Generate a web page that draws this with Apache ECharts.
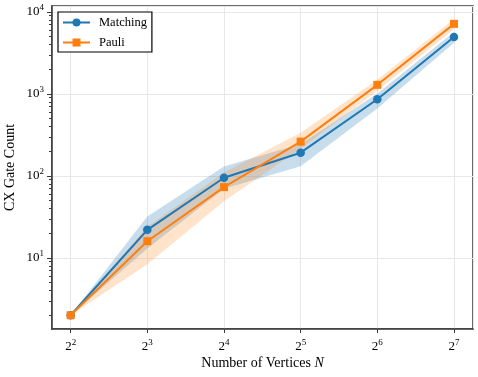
<!DOCTYPE html>
<html>
<head>
<meta charset="utf-8">
<script src="https://cdn.jsdelivr.net/npm/echarts@6/dist/echarts.min.js"></script>
<style>
  html, body { margin: 0; padding: 0; background: #fff; }
  #chart { width: 478px; height: 377px; }
</style>
</head>
<body>
<div id="chart"></div>
<script>
// number of vertices
let vertices = [4, 8, 16, 32, 64, 128];

// CX gate counts (mean) and shaded spread
let matching = [2, 22, 95, 192, 860, 4950];
let matchingLow = [2, 13, 70, 131, 665, 4200];
let matchingHigh = [2, 32, 130, 245, 1015, 5700];

let pauli = [2, 16, 73, 262, 1290, 7150];
let pauliLow = [2, 8.4, 49, 215, 1090, 6200];
let pauliHigh = [2, 24, 110, 335, 1490, 8200];

// log-axis minor ticks (2..9 of each decade)
let minorTicks = [2, 3, 4, 5, 6, 7, 8, 9,
    20, 30, 40, 50, 60, 70, 80, 90,
    200, 300, 400, 500, 600, 700, 800, 900,
    2000, 3000, 4000, 5000, 6000, 7000, 8000, 9000];

let BLUE = '#1f77b4';
let ORANGE = '#ff7f0e';
let AXIS = '#3a3a3a';
let FONT = '"Liberation Serif", "DejaVu Serif", serif';
let YMIN = 1.36, YMAX = 11800;

window.onload = function() {
    drawChart();
}

function pairs(xs, ys) {
    return xs.map((x, i) => [x, ys[i]]);
}

// shaded region between low and high, drawn as one polygon
function band(name, low, high, color) {
    return {
        name: name,
        type: 'custom',
        silent: true,
        z: 1,
        clip: true,
        data: pairs(vertices, high),
        renderItem: function(params, api) {
            if (params.dataIndex !== 0) return null;
            let pts = [];
            for (let i = 0; i < vertices.length; i++) {
                pts.push(api.coord([vertices[i], high[i]]));
            }
            for (let i = vertices.length - 1; i >= 0; i--) {
                pts.push(api.coord([vertices[i], low[i]]));
            }
            return {
                type: 'polygon',
                shape: { points: pts },
                style: { fill: color, stroke: null }
            };
        }
    };
}

function drawChart() {
    var dom = document.getElementById('chart');
    var myChart = echarts.init(dom);

    let supRich = {
        b: { fontFamily: FONT, fontSize: 13, color: '#000' },
        s: { fontFamily: FONT, fontSize: 9, color: '#000', verticalAlign: 'bottom', padding: [0, 0, 8, 0] }
    };

    let option = {
        animation: false,
        textStyle: { fontFamily: FONT },
        grid: {
            left: 52,
            right: 5,
            top: 6,
            bottom: 48,
            outerBoundsMode: 'none',
            containLabel: false,
            show: true,
            borderColor: AXIS,
            borderWidth: 1.5,
            backgroundColor: 'transparent'
        },
        legend: {
            data: ['Matching', 'Pauli'],
            orient: 'vertical',
            left: 58,
            top: 12,
            padding: [4, 5, 3, 4],
            itemWidth: 27,
            itemHeight: 10,
            itemGap: 7,
            borderColor: '#000',
            borderWidth: 1.2,
            backgroundColor: '#fff',
            textStyle: { fontFamily: FONT, fontSize: 12.5, color: '#000', padding: [0, 0, 0, 4] }
        },
        xAxis: {
            type: 'log',
            logBase: 2,
            min: 3.38,
            max: 152,
            name: 'Number of Vertices {i|N}',
            nameLocation: 'middle',
            nameGap: 27,
            nameMoveOverlap: false,
            nameTextStyle: {
                fontFamily: FONT, fontSize: 14, color: '#000',
                rich: { i: { fontFamily: FONT, fontSize: 14, fontStyle: 'italic', color: '#000' } }
            },
            axisLine: { show: true, onZero: false, lineStyle: { color: AXIS, width: 1.5 } },
            axisTick: { show: true, length: 4, lineStyle: { color: AXIS, width: 1 } },
            minorTick: { show: false },
            splitLine: { show: true, lineStyle: { color: '#e8e8e8', width: 1 } },
            axisLabel: {
                margin: 9,
                showMinLabel: false,
                showMaxLabel: false,
                formatter: function(v) {
                    return '{b|2}{s|' + Math.round(Math.log2(v)) + '}';
                },
                rich: supRich
            }
        },
        yAxis: [
            {
                type: 'log',
                logBase: 10,
                min: YMIN,
                max: YMAX,
                name: 'CX Gate Count',
                nameLocation: 'middle',
                nameRotate: 90,
                nameGap: 35,
                nameMoveOverlap: false,
                nameTextStyle: { fontFamily: FONT, fontSize: 14, color: '#000' },
                axisLine: { show: true, onZero: false, lineStyle: { color: AXIS, width: 1.5 } },
                axisTick: { show: true, length: 5, lineStyle: { color: AXIS, width: 1 } },
                minorTick: { show: false },
                splitLine: { show: true, lineStyle: { color: '#e8e8e8', width: 1 } },
                axisLabel: {
                    margin: 8,
                    showMinLabel: false,
                    showMaxLabel: false,
                    formatter: function(v) {
                        return '{b|10}{s|' + Math.round(Math.log10(v)) + '}';
                    },
                    rich: supRich
                }
            },
            {
                // minor ticks only, same range in exponent space
                type: 'value',
                min: Math.log10(YMIN),
                max: Math.log10(YMAX),
                position: 'left',
                axisLine: { show: false, onZero: false },
                axisTick: { show: true, length: 3, customValues: minorTicks.map(Math.log10), lineStyle: { color: AXIS, width: 1 } },
                axisLabel: { show: false },
                splitLine: { show: false }
            }
        ],
        series: [
            band('mBand', matchingLow, matchingHigh, 'rgba(31,119,180,0.25)'),
            band('pBand', pauliLow, pauliHigh, 'rgba(255,127,14,0.22)'),
            {
                name: 'Matching',
                type: 'line',
                data: pairs(vertices, matching),
                symbol: 'circle',
                symbolSize: 8.5,
                color: BLUE,
                lineStyle: { color: BLUE, width: 2 },
                itemStyle: { color: BLUE },
                z: 3
            },
            {
                name: 'Pauli',
                type: 'line',
                data: pairs(vertices, pauli),
                symbol: 'rect',
                symbolSize: 8,
                color: ORANGE,
                lineStyle: { color: ORANGE, width: 2 },
                itemStyle: { color: ORANGE },
                z: 4
            }
        ]
    };
    myChart.setOption(option, true);
}
</script>
</body>
</html>
